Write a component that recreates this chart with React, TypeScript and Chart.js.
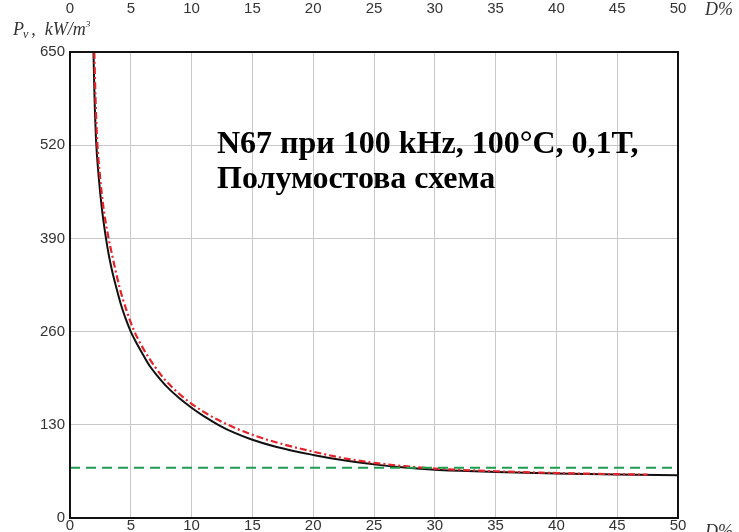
import React, { useEffect, useRef } from "react";
import { Chart, registerables } from "chart.js";

Chart.register(...registerables);

// Duty cycle D, % (x) and core loss Pv, kW/m³ (y)
const dutySolid = [1.93, 2.02, 2.15, 2.35, 2.6, 2.94, 3.2, 3.46, 3.8, 4.2, 4.6, 4.97, 5.5, 6, 6.56, 7.2, 8, 9, 9.94, 11, 12.3, 13.5, 14.94, 17, 20, 22.5, 25, 27.5, 30, 35, 40, 45, 50];
const lossSolid = [650, 585, 525, 478, 435, 392, 366, 345, 322, 297, 277, 261, 243, 228, 212, 198, 182.5, 167, 154.5, 142, 129, 119, 109.5, 99, 88, 80.5, 74.8, 70.4, 67.3, 64.3, 62.1, 60.6, 59.5];

const dutyDashDot = [2.0, 2.1, 2.24, 2.45, 2.72, 3.15, 3.45, 3.75, 4.1, 4.6, 5.25, 6, 6.98, 7.8, 8.8, 9.86, 11, 12.5, 15, 17.5, 20, 22.8, 25, 27.5, 30, 35, 40, 44, 47.5];
const lossDashDot = [650, 585, 525, 480, 437, 392, 368, 345, 320, 292, 262, 237, 211, 193, 176, 161, 148, 134, 116, 103, 92.5, 82.5, 77, 72.3, 69, 65.2, 62.7, 61.4, 60.5];

const refDuty = [0, 50];
const refLoss = [70, 70];

const xTickStep = 5;
const yTicks = [0, 130, 260, 390, 520, 650];

const titleLine1 = "N67 при 100 kHz, 100°C, 0,1T,";
const titleLine2 = "Полумостова схема";

const toPoints = (xs: number[], ys: number[]) => xs.map((x, i) => ({ x, y: ys[i] }));

const framePlugin = {
  id: "frameAndText",
  afterDatasetsDraw(chart: any) {
    const { ctx, chartArea } = chart;
    ctx.save();
    // plot frame
    ctx.strokeStyle = "#111";
    ctx.lineWidth = 2;
    ctx.strokeRect(chartArea.left, chartArea.top, chartArea.right - chartArea.left, chartArea.bottom - chartArea.top);

    // annotation
    ctx.fillStyle = "#000";
    ctx.font = "bold 32px 'Liberation Serif', 'Times New Roman', serif";
    ctx.textBaseline = "alphabetic";
    ctx.textAlign = "left";
    ctx.fillText(titleLine1, 217, 153);
    ctx.fillText(titleLine2, 217, 188);

    // y-axis title: Pv, kW/m³
    ctx.fillStyle = "#333";
    const serif = "'Liberation Serif', 'Times New Roman', serif";
    let x = 13;
    const base = 35;
    ctx.font = `italic 18px ${serif}`;
    ctx.fillText("P", x, base);
    x += ctx.measureText("P").width - 1;
    ctx.font = `italic 12px ${serif}`;
    ctx.fillText("v", x, base + 3);
    x += ctx.measureText("v").width + 3;
    ctx.font = `italic 18px ${serif}`;
    ctx.fillText(",  kW/m", x, base);
    x += ctx.measureText(",  kW/m").width;
    ctx.font = `italic 9px ${serif}`;
    ctx.fillText("3", x, base - 8);

    // x-axis titles (top and bottom)
    ctx.font = `italic 18px ${serif}`;
    ctx.fillText("D%", 705, 15);
    ctx.fillText("D%", 705, 537);
    ctx.restore();
  },
};

export default function App() {
  const canvasRef = useRef<HTMLCanvasElement | null>(null);

  useEffect(() => {
    if (!canvasRef.current) return;
    Chart.defaults.font.family = "'Liberation Sans', Arial, sans-serif";
    const tickFont = { size: 15 };
    const chart = new Chart(canvasRef.current, {
      type: "line",
      data: {
        datasets: [
          {
            label: "ref",
            data: toPoints(refDuty, refLoss),
            borderColor: "#1f9d4f",
            borderWidth: 2,
            borderDash: [10, 6],
            pointRadius: 0,
            tension: 0,
          },
          {
            label: "dashdot",
            data: toPoints(dutyDashDot, lossDashDot),
            borderColor: "#e5232a",
            borderWidth: 2.2,
            borderDash: [7, 3, 2, 3],
            pointRadius: 0,
            cubicInterpolationMode: "monotone",
          },
          {
            label: "solid",
            data: toPoints(dutySolid, lossSolid),
            borderColor: "#111",
            borderWidth: 2,
            pointRadius: 0,
            cubicInterpolationMode: "monotone",
          },
        ],
      },
      options: {
        animation: false,
        responsive: true,
        maintainAspectRatio: false,
        layout: { padding: { left: 0, top: 0, right: 61, bottom: 0 } },
        plugins: { legend: { display: false }, tooltip: { enabled: false } },
        scales: {
          x: {
            type: "linear",
            position: "bottom",
            min: 0,
            max: 50,
            ticks: { stepSize: xTickStep, font: tickFont, color: "#333", padding: -1, maxRotation: 0 },
            grid: { color: "#c8c8c8", drawTicks: false },
            border: { display: false },
            afterFit: (s: any) => { s.height = 12; },
          },
          x2: {
            type: "linear",
            position: "top",
            min: 0,
            max: 50,
            ticks: { stepSize: xTickStep, font: tickFont, color: "#333", padding: 34, maxRotation: 0 },
            grid: { display: false, drawTicks: false },
            border: { display: false },
            afterFit: (s: any) => { s.height = 52; },
          },
          y: {
            type: "linear",
            min: 0,
            max: 650,
            afterBuildTicks: (s: any) => { s.ticks = yTicks.map((v) => ({ value: v })); },
            ticks: { font: tickFont, color: "#333", padding: 5 },
            grid: { color: "#c8c8c8", drawTicks: false },
            border: { display: false },
            afterFit: (s: any) => { s.width = 70; },
          },
        },
      },
      plugins: [framePlugin],
    });
    return () => chart.destroy();
  }, []);

  return (
    <div style={{ position: "absolute", left: 0, top: 0, width: 739, height: 532 }}>
      <canvas ref={canvasRef} />
    </div>
  );
}
